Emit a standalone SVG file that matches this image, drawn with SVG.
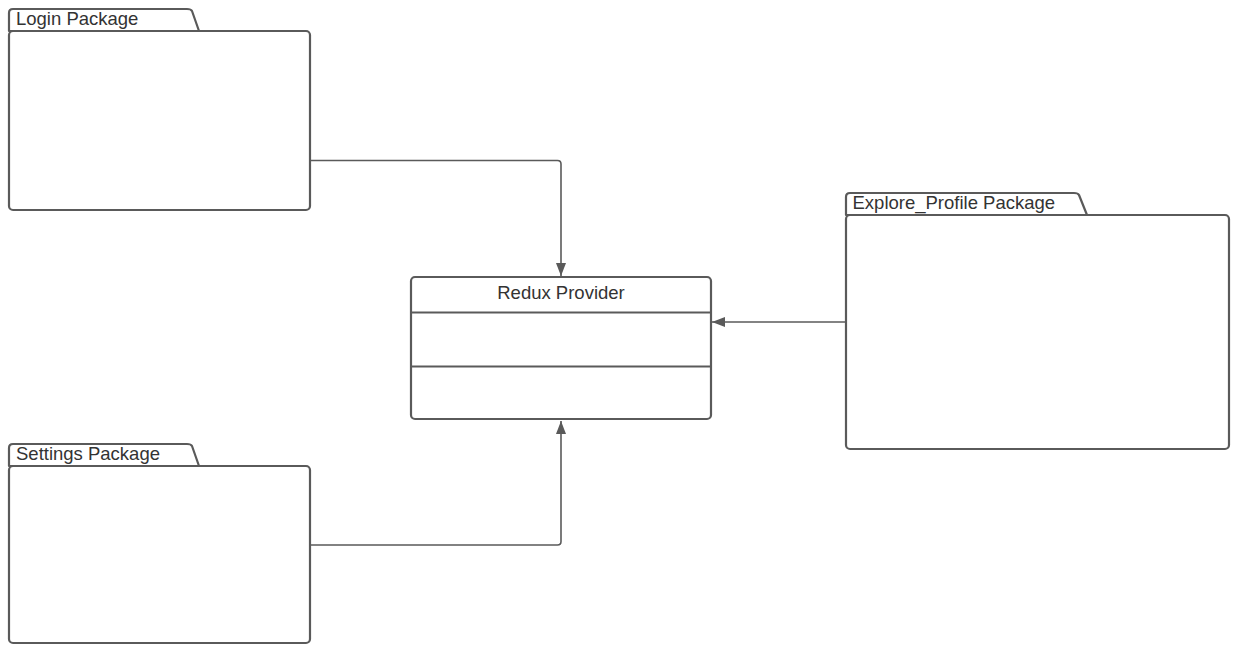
<svg xmlns="http://www.w3.org/2000/svg" width="1233" height="645" viewBox="0 0 1233 645">
  <style>
    .box { fill: #ffffff; stroke: #5a5a5a; stroke-width: 2.2; stroke-linejoin: round; }
    .div { stroke: #5a5a5a; stroke-width: 2.2; fill: none; }
    .label { font-family: "Liberation Sans", Arial, sans-serif; font-size: 18.5px; fill: #333333; }
    .conn { fill: none; stroke: #5a5a5a; stroke-width: 1.6; }
  </style>
  <defs>
    <marker id="arrow" viewBox="0 0 14 12" refX="13" refY="6" markerWidth="14" markerHeight="12" markerUnits="userSpaceOnUse" orient="auto">
      <path d="M0,1 L13,6 L0,11 Z" fill="#5a5a5a"/>
    </marker>
  </defs>
  <rect width="1233" height="645" fill="#ffffff"/>

  <!-- connectors -->
  <g id="connectors">
    <path class="conn" d="M310,160.5 H557.5 Q561,160.5 561,164 V276" marker-end="url(#arrow)"/>
    <path class="conn" d="M310,545 H557.5 Q561,545 561,541.5 V421" marker-end="url(#arrow)"/>
    <path class="conn" d="M846,322 H712" marker-end="url(#arrow)"/>
  </g>

  <!-- Login package -->
  <g id="login-package">
    <path class="box" d="M9,31 V13 Q9,9 13,9 H187 Q191,9 192,11 L199,31 Z"/>
    <rect class="box" x="9" y="31" width="301" height="179" rx="4"/>
    <text class="label" x="16" y="25">Login Package</text>
  </g>

  <!-- Redux provider class -->
  <g id="redux-provider">
    <rect class="box" x="411" y="277" width="300" height="142" rx="4"/>
    <line class="div" x1="411" y1="312.5" x2="711" y2="312.5"/>
    <line class="div" x1="411" y1="366.5" x2="711" y2="366.5"/>
    <text class="label" x="561" y="299" text-anchor="middle">Redux Provider</text>
  </g>

  <!-- Explore_Profile package -->
  <g id="explore-profile-package">
    <path class="box" d="M846,215 V197 Q846,193 850,193 H1074 Q1078,193 1079,195 L1087,215 Z"/>
    <rect class="box" x="846" y="215" width="383" height="234" rx="4"/>
    <text class="label" x="852.5" y="208.5">Explore_Profile Package</text>
  </g>

  <!-- Settings package -->
  <g id="settings-package">
    <path class="box" d="M9,466 V448 Q9,444 13,444 H187 Q191,444 192,446 L199,466 Z"/>
    <rect class="box" x="9" y="466" width="301" height="177" rx="4"/>
    <text class="label" x="16" y="459.5">Settings Package</text>
  </g>
</svg>
